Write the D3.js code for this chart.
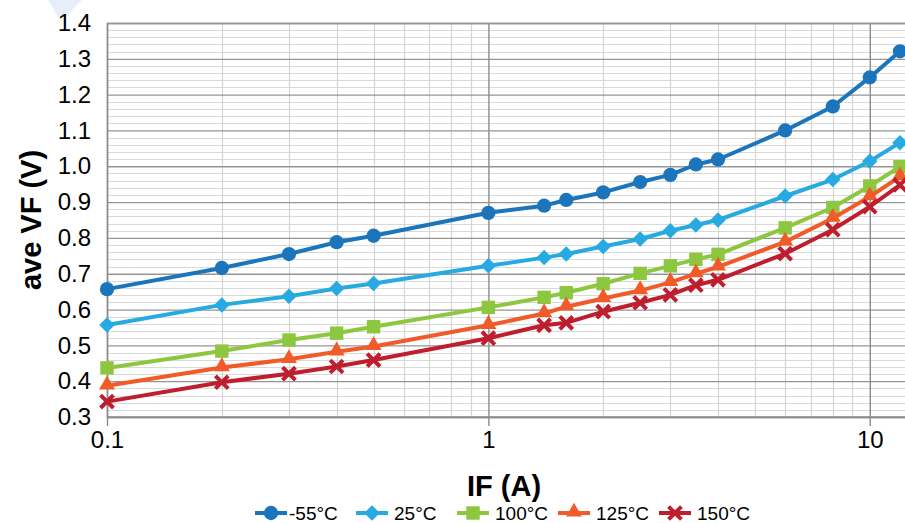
<!DOCTYPE html>
<html>
<head>
<meta charset="utf-8">
<script src="https://cdn.jsdelivr.net/npm/d3@7"></script>
<style>
  body { margin: 0; background: #fff; }
  svg { display: block; font-family: "Liberation Sans", Arial, sans-serif; }
</style>
</head>
<body>
<div id="chart"></div>
<script>
// forward current IF (A) at each measured point
const current = [0.1, 0.2, 0.3, 0.4, 0.5, 1, 1.4, 1.6, 2, 2.5, 3, 3.5, 4, 6, 8, 10, 12];

// ave VF (V) for each temperature
const vfMinus55 = [0.657, 0.716, 0.755, 0.788, 0.806, 0.870, 0.890, 0.906, 0.927, 0.956, 0.976, 1.005, 1.019, 1.100, 1.167, 1.248, 1.321];
const vf25      = [0.557, 0.613, 0.637, 0.659, 0.673, 0.722, 0.745, 0.755, 0.776, 0.797, 0.820, 0.836, 0.850, 0.917, 0.963, 1.014, 1.066];
const vf100     = [0.437, 0.484, 0.515, 0.534, 0.552, 0.606, 0.634, 0.647, 0.672, 0.701, 0.722, 0.740, 0.754, 0.828, 0.885, 0.945, 0.999];
const vf125     = [0.387, 0.438, 0.461, 0.482, 0.497, 0.556, 0.589, 0.608, 0.631, 0.653, 0.676, 0.700, 0.719, 0.789, 0.855, 0.915, 0.971];
const vf150     = [0.343, 0.397, 0.421, 0.441, 0.459, 0.520, 0.556, 0.563, 0.594, 0.619, 0.641, 0.668, 0.683, 0.756, 0.823, 0.887, 0.948];

const seriesNames = ["-55°C", "25°C", "100°C", "125°C", "150°C"];
const seriesColors = ["#1b75bc", "#27aae1", "#8dc63f", "#f15a29", "#be1e2d"];
const seriesMarkers = ["circle", "diamond", "square", "triangle", "x"];

const yTicks = [0.3, 0.4, 0.5, 0.6, 0.7, 0.8, 0.9, 1.0, 1.1, 1.2, 1.3, 1.4];
const xTicks = [0.1, 1, 10];

const width = 905, height = 523;

const svg = d3.select("#chart").append("svg")
    .attr("width", width)
    .attr("height", height);

// faint logo corner top-left
svg.append("path")
    .attr("d", "M48,0 L82,0 L65,17 L58,17 Z")
    .attr("fill", "#e7eefa");

const x = d3.scaleLog().domain([0.1, 12.37]).range([107, 905]);
const y = d3.scaleLinear().domain([0.3, 1.4]).range([417, 23]);

// minor grid
const minorY = d3.range(30, 141, 2).map(d => d / 100).filter(d => Math.round(d * 100) % 10 !== 0);
svg.append("g").selectAll("line").data(minorY).enter().append("line")
    .attr("x1", x.range()[0]).attr("x2", x.range()[1])
    .attr("y1", d => Math.round(y(d)) + 0.5).attr("y2", d => Math.round(y(d)) + 0.5)
    .attr("stroke", "#d9d9d9").attr("stroke-width", 1);

const minorX = [];
[0.1, 1, 10].forEach(dec => { for (let k = 2; k <= 9; k++) { if (dec * k <= 12.37) minorX.push(dec * k); } });
svg.append("g").selectAll("line").data(minorX).enter().append("line")
    .attr("x1", d => Math.round(x(d)) + 0.5).attr("x2", d => Math.round(x(d)) + 0.5)
    .attr("y1", y.range()[1]).attr("y2", y.range()[0])
    .attr("stroke", "#d4d4d4").attr("stroke-width", 1.2);

// major grid + y axis labels
const yAxis = d3.axisLeft(y)
    .tickValues(yTicks)
    .tickSize(-(x.range()[1] - x.range()[0]))
    .tickPadding(16)
    .tickFormat(d3.format(".1f"));
const gy = svg.append("g").attr("transform", `translate(${x.range()[0]},0)`).call(yAxis);
gy.select(".domain").attr("stroke", "#8c8c8c").attr("stroke-width", 1.5);
gy.selectAll(".tick line").attr("stroke", "#959595").attr("stroke-width", 1.3);
gy.selectAll(".tick text").attr("font-size", 24).attr("fill", "#000");

const xAxis = d3.axisBottom(x)
    .tickValues(xTicks)
    .tickSize(-(y.range()[0] - y.range()[1]))
    .tickFormat(d => d === 0.1 ? "0.1" : String(d));
const gx = svg.append("g").attr("transform", `translate(0,${y.range()[0]})`).call(xAxis);
gx.select(".domain").remove();
gx.selectAll(".tick line").attr("stroke", "#8c8c8c").attr("stroke-width", 1.4);
gx.selectAll(".tick text").attr("font-size", 24).attr("fill", "#000").attr("dy", "1.15em");
// little ticks below the axis
gx.selectAll(".tick").append("line")
    .attr("y1", 0).attr("y2", 9)
    .attr("stroke", "#8c8c8c").attr("stroke-width", 1.4);
// bottom axis line
svg.append("line")
    .attr("x1", x.range()[0]).attr("x2", x.range()[1])
    .attr("y1", y.range()[0]).attr("y2", y.range()[0])
    .attr("stroke", "#8c8c8c").attr("stroke-width", 1.5);

// axis titles
svg.append("text")
    .attr("transform", `translate(41,${(y.range()[0] + y.range()[1]) / 2}) rotate(-90)`)
    .attr("text-anchor", "middle")
    .attr("font-size", 29).attr("font-weight", "bold")
    .text("ave VF (V)");
svg.append("text")
    .attr("x", 504).attr("y", 496)
    .attr("text-anchor", "middle")
    .attr("font-size", 29).attr("font-weight", "bold")
    .text("IF (A)");

function markerPath(type) {
    if (type === "circle") return d3.symbol(d3.symbolCircle, 160)();
    if (type === "diamond") return d3.symbol(d3.symbolSquare, 120)();
    if (type === "square") return d3.symbol(d3.symbolSquare, 180)();
    if (type === "triangle") return d3.symbol(d3.symbolTriangle, 110)();
    return d3.symbol(d3.symbolX, 110)();
}
function drawMarker(g, type, color) {
    const p = g.append("path").attr("d", markerPath(type));
    if (type === "x") p.attr("fill", "none").attr("stroke", color).attr("stroke-width", 4);
    else p.attr("fill", color);
    if (type === "diamond") p.attr("transform", "rotate(45)");
    if (type === "triangle") p.attr("transform", "translate(0,-1)");
}

const allSeries = [vfMinus55, vf25, vf100, vf125, vf150];
const line = d3.line().x(d => x(d[0])).y(d => y(d[1]));

allSeries.forEach((vals, i) => {
    const pts = current.map((c, j) => [c, vals[j]]);
    const g = svg.append("g");
    g.append("path").datum(pts)
        .attr("d", line)
        .attr("fill", "none")
        .attr("stroke", seriesColors[i])
        .attr("stroke-width", 4)
        .attr("stroke-linejoin", "round");
    g.selectAll("g.m").data(pts).enter().append("g")
        .attr("class", "m")
        .attr("transform", d => `translate(${x(d[0])},${y(d[1])})`)
        .each(function () { drawMarker(d3.select(this), seriesMarkers[i], seriesColors[i]); });
});

// legend
const legend = svg.append("g").attr("transform", "translate(255,513)");
seriesNames.forEach((name, i) => {
    const item = legend.append("g").attr("transform", `translate(${i * 101},0)`);
    item.append("line").attr("x1", 0).attr("x2", 32).attr("y1", 0).attr("y2", 0)
        .attr("stroke", seriesColors[i]).attr("stroke-width", 4);
    const m = item.append("g").attr("transform", "translate(16,0)");
    drawMarker(m, seriesMarkers[i], seriesColors[i]);
    item.append("text").attr("x", i === 0 ? 34 : 38).attr("y", 7)
        .attr("font-size", 19).attr("fill", "#000")
        .text(name);
});
</script>
</body>
</html>
